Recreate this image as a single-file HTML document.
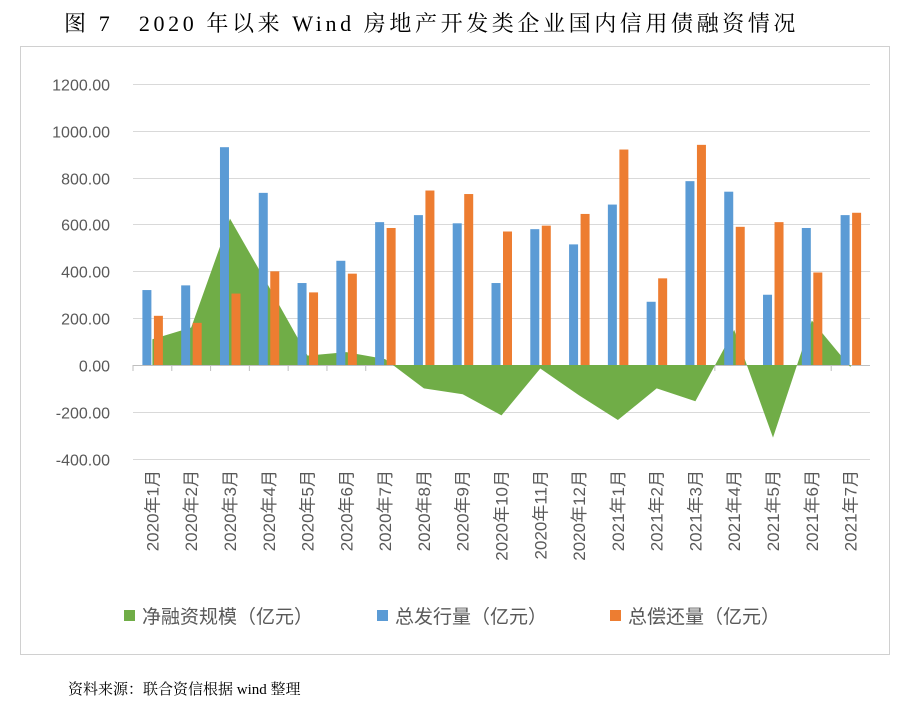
<!DOCTYPE html>
<html><head><meta charset="utf-8"><style>
body{margin:0;background:#fff;}
svg{display:block;font-family:"Liberation Sans","Noto Sans CJK SC",sans-serif;}
</style></head><body>
<svg width="908" height="706" viewBox="0 0 908 706" xmlns="http://www.w3.org/2000/svg">
<text x="64" y="31" font-size="22" letter-spacing="3.6" font-family="'Liberation Serif','Noto Serif CJK SC',serif" fill="#000">图 7　2020 年以来 Wind 房地产开发类企业国内信用债融资情况</text>
<rect x="20.5" y="46.5" width="869" height="608" fill="#fff" stroke="#d0d0d0"/>
<g id="grid" stroke="#d9d9d9" stroke-width="1"></g>
<g id="area"></g>
<g id="bars"></g>
<g id="ylab" font-size="16" fill="#595959" text-anchor="end"></g>
<g id="xlab" font-size="17" fill="#595959"></g>
<g font-size="19" fill="#595959">
<rect x="124" y="610" width="11" height="11" fill="#70AD47"/><text x="142" y="623">净融资规模（亿元）</text>
<rect x="377" y="610" width="11" height="11" fill="#5B9BD5"/><text x="395" y="623">总发行量（亿元）</text>
<rect x="610" y="610" width="11" height="11" fill="#ED7D31"/><text x="628" y="623">总偿还量（亿元）</text>
</g>
<text x="68" y="694" font-size="15" font-family="'Liberation Serif','Noto Serif CJK SC',serif" fill="#000">资料来源：联合资信根据 wind 整理</text>
<script>
var ns="http://www.w3.org/2000/svg";
function Y(v){return 365-v*0.2342;}
function el(p,t,a,txt){var e=document.createElementNS(ns,t);for(var k in a)e.setAttribute(k,a[k]);if(txt!=null)e.textContent=txt;document.getElementById(p).appendChild(e);return e;}
for(var v=-400;v<=1200;v+=200){var y=Math.round(Y(v))+0.5;el("grid","line",{x1:133,x2:870,y1:y,y2:y,stroke:v==0?"#bfbfbf":"#d9d9d9"});el("ylab","text",{x:110,y:y+6},v.toFixed(2));}
var blue=[320,340,930,735,350,445,610,640,605,350,580,515,685,270,785,740,300,585,640];
var orng=[210,180,305,400,310,390,585,745,730,570,595,645,920,370,940,590,610,395,650];
var net=[110,160,625,335,40,55,25,-100,-125,-215,-15,-130,-235,-100,-155,150,-310,190,-10];
var labs=["2020年1月","2020年2月","2020年3月","2020年4月","2020年5月","2020年6月","2020年7月","2020年8月","2020年9月","2020年10月","2020年11月","2020年12月","2021年1月","2021年2月","2021年3月","2021年4月","2021年5月","2021年6月","2021年7月"];
var w=737/19,pts=[];
for(var i=0;i<19;i++){var cx=133+w*(i+0.5);pts.push(cx.toFixed(1)+","+Y(net[i]).toFixed(1));
el("grid","line",{x1:133+w*i,x2:133+w*i,y1:365,y2:371,stroke:"#bfbfbf"});
el("bars","rect",{x:cx-10,y:Y(blue[i]),width:9,height:365-Y(blue[i]),fill:"#5B9BD5"});
el("bars","rect",{x:cx+1.5,y:Y(orng[i]),width:9,height:365-Y(orng[i]),fill:"#ED7D31"});
el("xlab","text",{x:0,y:0,transform:"translate("+(cx+6)+",470) rotate(-90)","text-anchor":"end"},labs[i]);}
el("area","polygon",{points:(133+w/2).toFixed(1)+",365 "+pts.join(" ")+" "+(133+w*18.5).toFixed(1)+",365",fill:"#70AD47"});
</script>
</svg>
</body></html>
